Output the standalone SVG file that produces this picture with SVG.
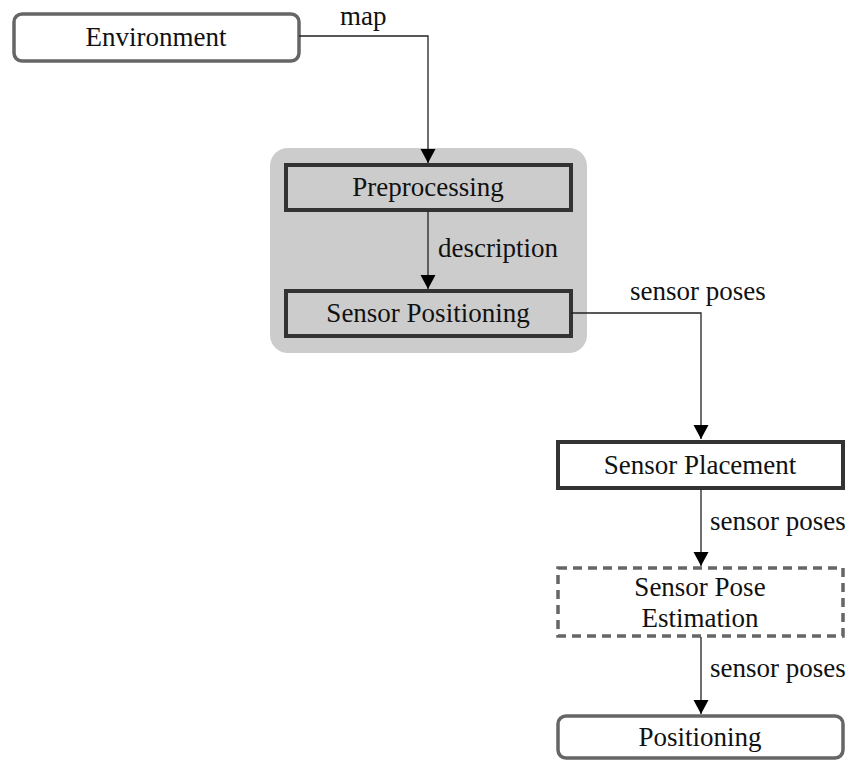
<svg xmlns="http://www.w3.org/2000/svg" width="854" height="760" viewBox="0 0 854 760" font-family="Liberation Serif, DejaVu Serif, serif" font-size="27">
<style>
text{fill:#111}
.c{text-anchor:middle}
.edge{fill:none;stroke:#222;stroke-width:1.3}
.soft{fill:#fff;stroke:#666;stroke-width:3.5}
.hard{stroke:#333;stroke-width:4}
</style>
<defs>
<marker id="ah" markerUnits="userSpaceOnUse" markerWidth="16" markerHeight="16" refX="14" refY="8" orient="auto">
<path d="M0,0.5 L14,8 L0,15.5 Z" fill="#000"/>
</marker>
</defs>
<rect id="group" x="270" y="148" width="317" height="205" rx="18" fill="#ccc"/>
<g id="environment">
<rect class="soft" x="14" y="14" width="285" height="47" rx="8"/>
<text class="c" x="156" y="46">Environment</text>
</g>
<g id="preprocessing">
<rect class="hard" x="286" y="165" width="285" height="45" fill="#ccc"/>
<text class="c" x="428" y="196">Preprocessing</text>
</g>
<g id="sensor-positioning">
<rect class="hard" x="286" y="291" width="285" height="45" fill="#ccc"/>
<text class="c" x="428" y="322">Sensor Positioning</text>
</g>
<g id="sensor-placement">
<rect class="hard" x="558" y="442" width="285" height="46" fill="#fff"/>
<text class="c" x="700" y="474">Sensor Placement</text>
</g>
<g id="sensor-pose-estimation">
<rect x="558" y="568" width="285" height="68" fill="#fff" stroke="#666" stroke-width="3.5" stroke-dasharray="9,6"/>
<text class="c" x="700" y="596">Sensor Pose</text>
<text class="c" x="700" y="627">Estimation</text>
</g>
<g id="positioning">
<rect class="soft" x="558" y="716" width="285" height="42" rx="8"/>
<text class="c" x="700" y="746">Positioning</text>
</g>
<g id="connectors">
<path class="edge" d="M299,36 H428 V163" marker-end="url(#ah)"/>
<text x="340" y="25">map</text>
<path class="edge" d="M428,211 V289" marker-end="url(#ah)"/>
<text x="438" y="257">description</text>
<path class="edge" d="M571,313 H701 V439" marker-end="url(#ah)"/>
<text x="630" y="300">sensor poses</text>
<path class="edge" d="M701,489 V566" marker-end="url(#ah)"/>
<text x="710" y="530">sensor poses</text>
<path class="edge" d="M701,637 V714" marker-end="url(#ah)"/>
<text x="710" y="677">sensor poses</text>
</g>
</svg>
